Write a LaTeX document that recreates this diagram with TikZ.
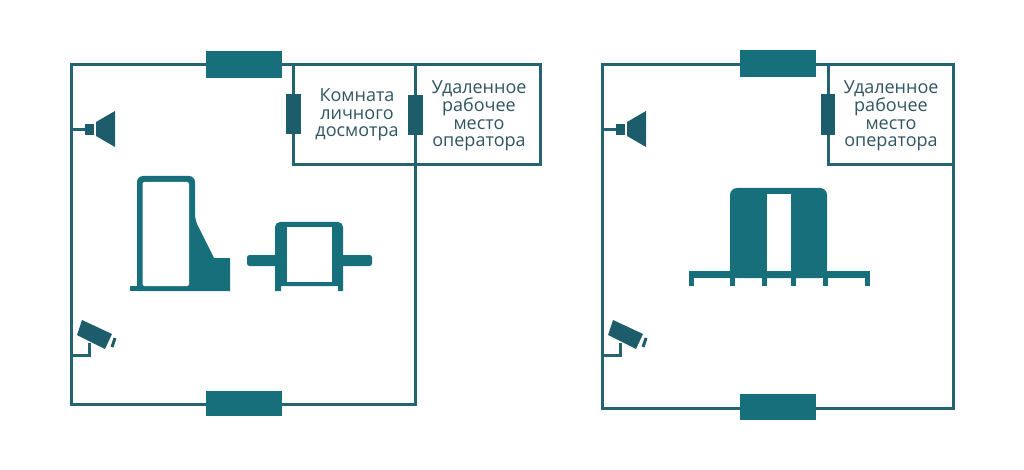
\documentclass[tikz,border=0pt]{standalone}
\usepackage{fontspec}
\setmainfont{Open Sans}
\definecolor{wallcol}{RGB}{36,99,112}
\definecolor{doorcol}{RGB}{24,111,124}
\definecolor{sidecol}{RGB}{29,92,107}
\definecolor{textcol}{RGB}{47,85,96}
\tikzset{
  wall/.style={draw=wallcol, line width=3pt, line join=miter},
  door/.style={fill=doorcol},
  sidedoor/.style={fill=sidecol},
  equip/.style={fill=doorcol, even odd rule},
  caption/.style={text=textcol, font=\fontsize{18}{17.6}\selectfont, align=center, inner sep=0pt}
}
\begin{document}
\begin{tikzpicture}[x=1pt,y=-1pt]
\useasboundingbox (0,0) rectangle (1024,470);

% Walls, left plan
\draw[wall] (71,65) rectangle (415,404);
\draw[wall] (293,65) -- (293,165) -- (415,165);
\draw[wall] (415,65) -- (540,65) -- (540,165) -- (415,165);

% Walls, right plan
\draw[wall] (602,65) rectangle (953,408);
\draw[wall] (828,65) -- (828,165) -- (953,165);

% Doors
\fill[door] (206,51) rectangle (282,78);
\fill[door] (206,391) rectangle (282,416);
\fill[door] (740,50) rectangle (816,77);
\fill[door] (740,394) rectangle (816,420);
\fill[sidedoor] (286,94) rectangle (301,134);
\fill[sidedoor] (408,95) rectangle (423,135);
\fill[sidedoor] (821,94) rectangle (835,135);

% Speaker and camera on both plans
\foreach \dx in {0,531}{
  \begin{scope}[xshift=\dx]
    \draw[wall] (71,129.5) -- (85,129.5);
    \fill[sidecol] (85,124) rectangle (94,135);
    \fill[sidecol] (96,122) -- (115,111) -- (115,147) -- (96,136) -- cycle;
    \draw[wall] (71,355) -- (89,355) -- (89,343);
    \fill[sidecol] (82,320) -- (112,334) -- (105,349) -- (77,335) -- cycle;
    \draw[sidecol, line width=3pt] (115,338) -- (112,347);
  \end{scope}
}

% Metal detector arch
\fill[equip, rounded corners=6pt] (137,291) -- (137,176) -- (195,176) -- (195,220) [sharp corners] -- (214,258) -- (230,258) -- (230,291) -- cycle;
\fill[white, rounded corners=2pt] (142.5,286) -- (142.5,182) -- (189,182) -- (189,286) -- cycle;
\fill[door] (130,286) rectangle (140,291);

% X-ray unit
\fill[door, rounded corners=2.5pt] (247,255) rectangle (372,266);
\fill[door, rounded corners=4pt] (275,291) [sharp corners] -- (275,230) [rounded corners=5pt] -- (275,222) -- (343,222) [sharp corners] -- (343,291) -- (338,291) -- (338,286) -- (281,286) -- (281,291) -- cycle;
\fill[white] (287,227) rectangle (332,282);

% Tunnel scanner
\fill[door, rounded corners=7pt] (730,278) -- (730,188) -- (827,188) -- (827,278) -- cycle;
\fill[white] (767,194) rectangle (791,271);
\fill[door] (689,271) rectangle (870,278);
\foreach \lx in {689,730,762,791,823,865}{
  \fill[door] (\lx,278) rectangle (\lx+4.5,286);
}

% Labels
\node[caption] (roomleft) at (357,115) {Комната\\личного\\досмотра};
\node[caption] (opleft) at (479,116) {Удаленное\\рабочее\\место\\оператора};
\node[caption] (opright) at (891,116) {Удаленное\\рабочее\\место\\оператора};
\end{tikzpicture}
\end{document}
